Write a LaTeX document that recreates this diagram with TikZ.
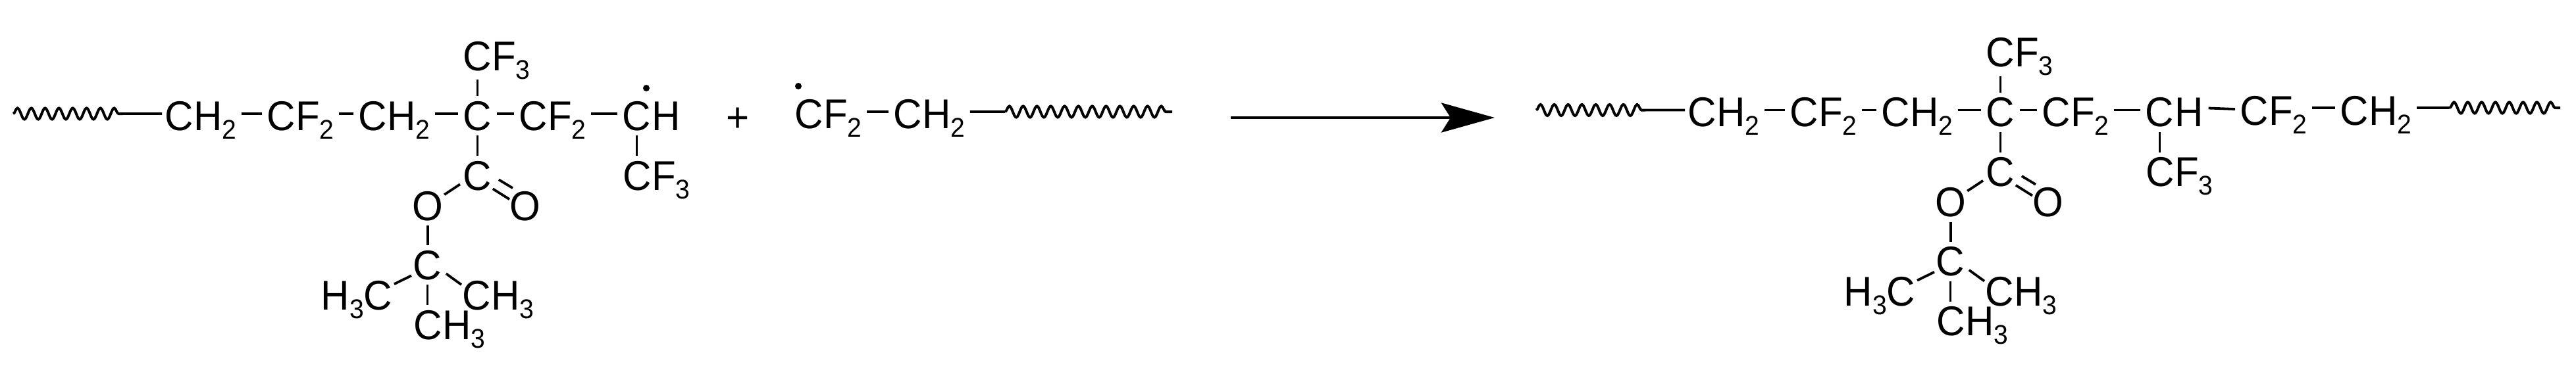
\documentclass[tikz,border=0pt]{standalone}
\usepackage{fontspec}
\setmainfont[FakeStretch=0.95]{Liberation Sans}
\usetikzlibrary{arrows.meta}
\usetikzlibrary{decorations.pathmorphing}

\newcommand{\sbs}[1]{\raisebox{-3.7pt}{\fontsize{11.7}{12}\selectfont #1}}

\tikzset{
	atom/.style={inner sep=0pt, anchor=base west, font=\fontsize{18}{20}\selectfont},
	bond/.style={line width=0.038cm},
	vbond/.style={bond, shorten <=0.07cm, shorten >=0.07cm},
	wavy/.style={line width=0.04cm, decorate, decoration={snake, amplitude=0.085cm, segment length=0.21cm}},
	radical/.style={circle, fill=black, inner sep=0pt, minimum size=0.1cm}
}

\begin{document}
\begin{tikzpicture}
	\useasboundingbox (0,0) rectangle (39.14,-5.68);

	% the same chain twice: reactant on the left, product on the right
	\foreach \m/\dx/\dy in {l/0/0, r/23.14/0.055} {
	\begin{scope}[shift={(\dx,\dy)}, name prefix=\m-]
		\node[atom] (c1) at (2.50,-1.98) {CH\sbs{2}};
		\node[atom] (c2) at (4.05,-1.98) {CF\sbs{2}};
		\node[atom] (c3) at (5.44,-1.98) {CH\sbs{2}};
		\node[atom] (cen) at (7.03,-1.98) {C};
		\node[atom] (c4) at (7.88,-1.98) {CF\sbs{2}};
		\node[atom] (rad) at (9.45,-1.98) {C};
		\node[atom] (radh) at (rad.base east) {H};
		\node[atom] (cft) at (7.03,-1.07) {CF\sbs{3}};
		\node[atom] (cfl) at (9.46,-2.89) {CF\sbs{3}};
		\node[atom] (car) at (7.03,-2.89) {C};
		\node[atom] (ol) at (6.26,-3.35) {O};
		\node[atom] (or) at (7.74,-3.35) {O};
		\node[atom] (tb) at (6.27,-4.25) {C};
		\node[atom] (ha) at (4.87,-4.71) {H\sbs{3}C};
		\node[atom] (mr) at (7.02,-4.71) {CH\sbs{3}};
		\node[atom] (mb) at (6.28,-5.16) {CH\sbs{3}};

		\coordinate (wa) at (0.20,-1.73);
		\coordinate (wb) at (1.86,-1.73);
		\draw[wavy] (wa) -- (wb);
		\draw[bond] (wb) -- ([shift={(-0.04,0.25)}]c1.base west);

		\foreach \a/\b in {c1/c2, c2/c3, c3/cen, cen/c4, c4/rad}
			\draw[bond] ([shift={(0.07,0.25)}]\a.base east) -- ([shift={(-0.07,0.25)}]\b.base west);

		\draw[vbond, shorten <=0pt] (cen.north |- cft.south) -- (cen.north);
		\draw[vbond] (cen.south) -- (car.north);
		\draw[vbond] (rad.south) -- (rad.south |- cfl.north);
		\draw[vbond] (ol.south) -- (ol.south |- tb.north);
		\draw[vbond] (tb.south) -- (tb.south |- mb.north);

		\draw[bond] ([shift={(-0.04,0.10)}]car.south west) -- ([shift={(0.01,-0.06)}]ol.north east);
		\draw[bond] ([shift={(0.10,0.17)}]car.south east) -- ([shift={(0.05,0.04)}]or.north west);
		\draw[bond] ([shift={(0.01,0.03)}]car.south east) -- ([shift={(0,-0.13)}]or.north west);
		\draw[bond] ([shift={(-0.02,0.07)}]tb.south west) -- ([shift={(0.02,-0.06)}]ha.north east);
		\draw[bond] ([shift={(0.06,0.10)}]tb.south east) -- ([shift={(-0.01,-0.07)}]mr.north west);
	\end{scope}
	}

	\node[radical] (dota) at (9.82,-1.34) {};

	% middle: plus and the second radical
	\node[inner sep=0pt, font=\fontsize{18}{20}\selectfont] (plus) at (11.21,-1.82) {+};
	\node[radical] (dotb) at (12.13,-1.31) {};
	\node[atom] (s1) at (12.07,-1.95) {CF\sbs{2}};
	\node[atom] (s2) at (13.57,-1.95) {CH\sbs{2}};
	\coordinate (sa) at (15.27,-1.70);
	\coordinate (sb) at (17.81,-1.70);
	\draw[bond] ([shift={(0.07,0.25)}]s1.base east) -- ([shift={(-0.07,0.25)}]s2.base west);
	\draw[bond] ([shift={(0.07,0.25)}]s2.base east) -- (sa);
	\draw[wavy] (sa) -- (sb);

	% reaction arrow
	\coordinate (pa) at (18.70,-1.79);
	\coordinate (pb) at (22.71,-1.79);
	\draw[line width=0.047cm, -{Stealth[length=0.81cm, width=0.45cm, inset=0.14cm]}] (pa) -- (pb);

	% rest of the product chain
	\node[atom] (p1) at (34.03,-1.90) {CF\sbs{2}};
	\node[atom] (p2) at (35.55,-1.90) {CH\sbs{2}};
	\coordinate (qa) at (37.22,-1.64);
	\coordinate (qb) at (38.90,-1.64);
	\draw[bond] ([shift={(0.07,0.28)}]r-radh.base east) -- ([shift={(-0.07,0.24)}]p1.base west);
	\draw[bond] ([shift={(0.07,0.26)}]p1.base east) -- ([shift={(-0.07,0.26)}]p2.base west);
	\draw[bond] ([shift={(0.07,0.26)}]p2.base east) -- (qa);
	\draw[wavy] (qa) -- (qb);
\end{tikzpicture}
\end{document}
